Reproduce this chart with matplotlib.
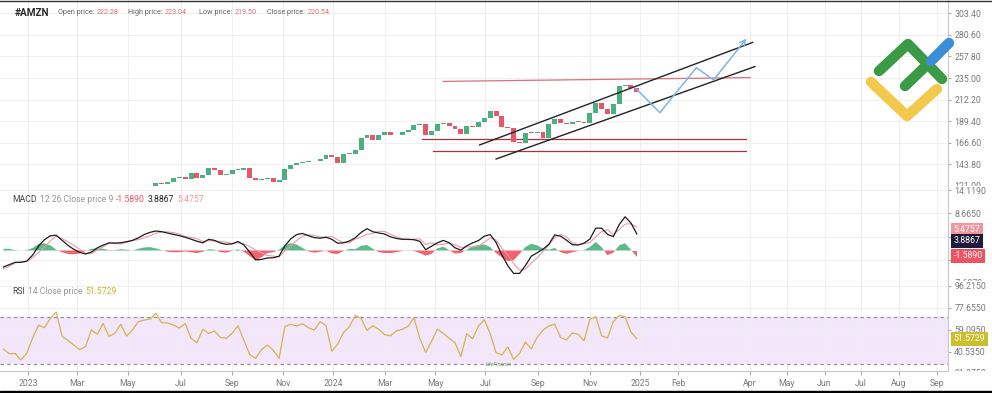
# AMZN daily chart with MACD and RSI panes, weekly readings.
import numpy as np
import pandas as pd
import matplotlib
matplotlib.use('Agg')
import matplotlib.pyplot as plt
from matplotlib.lines import Line2D
from matplotlib.patches import Rectangle
from matplotlib.text import Annotation
from matplotlib.transforms import Bbox, TransformedBbox

W, H = 992, 393

# axis calendar: trading days up to 2024, calendar days afterwards
START = '2022-11-28'
FUTURE = '2025-01-01'
FUTURE_STEP = 1.04

# weekly (Friday) readings
IND_START = '2022-12-02'
PRICE_START = '2023-05-26'
LAST_DAY = '2024-12-27'

price_close = [120.1, 124.3, 123.4, 125.5, 129.3, 130.4, 128.4, 134.7, 130.0, 132.2,
               139.6, 138.4, 133.2, 133.3, 138.1, 138.2, 140.4, 129.1, 127.1, 128.0,
               129.8, 125.2, 127.7, 138.6, 143.6, 145.2, 146.7, 147.0, 147.4, 150.0,
               153.4, 151.9, 145.2, 155.2, 155.3, 159.1, 171.8, 174.5, 169.5, 175.0,
               178.2, 175.4, 174.4, 178.2, 180.4, 185.1, 186.9, 174.6, 179.6, 186.2,
               187.5, 184.7, 180.8, 176.4, 184.3, 183.7, 189.1, 193.3, 200.0, 194.5,
               183.1, 182.5, 167.9, 166.9, 177.1, 177.0, 178.5, 171.4, 186.5, 191.6,
               188.0, 186.5, 188.8, 189.0, 187.8, 197.9, 208.2, 202.6, 197.1, 207.9,
               227.0, 227.5, 224.9, 220.5]

macd_line = [-3.86, -3.32, -2.78, -2.74, -2.49, -1.04, 1.06, 2.53, 3.45, 3.57,
             2.39, 1.21, 0.28, -0.42, -0.81, -0.36, 0.61, 1.26, 1.79, 1.74,
             1.81, 2.07, 2.35, 2.96, 3.73, 4.25, 4.56, 4.41, 4.08, 3.77,
             3.48, 3.09, 2.65, 2.17, 1.79, 2.61, 2.37, 1.75, 1.45, 1.55,
             2.11, 1.29, -0.36, -2.20, -2.09, -1.75, -1.70, -1.33, 1.11, 2.73,
             3.73, 4.00, 3.47, 3.02, 2.87, 3.12, 2.61, 1.71, 1.80, 2.22,
             2.99, 4.25, 5.11, 4.39, 4.10, 3.86, 3.20, 2.82, 2.62, 2.62,
             2.53, 2.14, 0.19, 1.00, 1.81, 2.35, 1.82, 0.63, 0.09, 1.08,
             1.79, 2.33, 3.35, 3.73, 1.89, -1.05, -3.55, -5.36, -5.36, -3.55,
             -1.34, -0.53, 0.29, 1.45, 3.66, 3.35, 2.43, 1.35, 1.29, 1.71,
             2.68, 5.23, 5.22, 3.79, 3.25, 6.06, 7.89, 6.44, 3.8867]

macd_hist = [0.4, 0.4, 0.1, 0.0, 0.1, 0.6, 1.5, 1.7, 1.2, 0.2,
             -0.4, -0.8, -0.9, -0.7, -0.1, 0.4, 0.5, 0.4, 0.1, 0.1,
             0.3, 0.2, 0.0, 0.4, 0.7, 0.8, 0.5, 0.1, -0.3, -0.4,
             -0.4, -0.2, -0.4, -0.6, -0.3, 0.3, 0.2, -0.4, -0.5, -0.1,
             0.3, -0.3, -1.3, -2.3, -1.6, -0.6, -0.4, 0.2, 1.2, 1.7,
             1.4, 0.6, -0.2, -0.5, -0.3, 0.0, -0.7, -0.8, -0.1, 0.4,
             0.3, 1.1, 1.3, 0.4, -0.4, -0.6, -0.6, -0.4, -0.1, 0.1,
             -0.1, -0.6, -1.2, -0.8, 0.5, 0.9, 0.1, -0.7, -0.6, 0.2,
             1.0, 1.3, 1.4, 0.8, -0.6, -1.6, -2.5, -2.3, -0.8, 0.8,
             1.6, 1.2, 0.5, 0.2, 0.6, -0.4, -0.8, -0.4, -0.1, 0.1,
             0.8, 2.0, 0.8, -1.1, -0.5, 1.2, 1.7, 0.2, -1.589]

rsi = [42.8, 38.9, 39.2, 33.6, 39.5, 52.4, 63.0, 60.8, 68.6, 74.0,
       53.5, 50.1, 46.2, 42.3, 44.8, 58.8, 55.2, 64.4, 53.5, 56.0,
       63.6, 53.8, 58.8, 65.8, 67.2, 68.0, 72.8, 65.0, 64.7, 63.0,
       60.5, 64.4, 51.8, 48.2, 59.4, 56.0, 58.0, 52.6, 51.8, 56.0,
       62.4, 50.4, 38.3, 35.0, 42.3, 46.2, 42.0, 35.0, 61.9, 63.6,
       62.2, 64.1, 60.8, 58.8, 65.8, 62.7, 41.0, 47.0, 56.8, 61.6,
       71.1, 68.6, 58.5, 62.4, 59.4, 54.9, 54.0, 58.0, 59.4, 61.9,
       69.2, 51.8, 40.0, 49.3, 59.6, 56.0, 51.8, 48.2, 36.4, 55.7,
       51.5, 62.2, 67.5, 55.7, 40.0, 37.8, 44.8, 34.1, 39.2, 48.7,
       43.1, 52.6, 58.8, 62.2, 63.8, 52.6, 50.4, 56.3, 55.4, 49.6,
       67.8, 70.0, 54.0, 52.1, 65.8, 71.1, 70.0, 57.1, 51.5729]

# drawings on the price pane: (date, price)
channel_upper = [('2024-06-24', 164.4), ('2025-04-03', 272.6)]
channel_lower = [('2024-07-12', 149.6), ('2025-04-05', 247.2)]
level_top = [('2024-05-10', 231.5), ('2025-04-01', 235.5)]
level_mid = [('2024-04-16', 170.4), ('2025-03-29', 170.4)]
level_low = [('2024-04-29', 158.0), ('2025-03-29', 158.0)]
forecast = [('2024-12-26', 224.2), ('2025-01-17', 198.5), ('2025-02-16', 246.0),
            ('2025-03-02', 233.0), ('2025-03-29', 276.7)]

tick_dates = ['2023-01-01', '2023-03-01', '2023-05-01', '2023-07-01', '2023-09-01',
              '2023-11-01', '2024-01-01', '2024-03-01', '2024-05-01', '2024-07-01',
              '2024-09-01', '2024-11-01', '2025-01-01', '2025-02-01', '2025-04-01',
              '2025-05-01', '2025-06-01', '2025-07-01', '2025-08-01', '2025-09-01']
tick_labels = ['2023', 'Mar', 'May', 'Jul', 'Sep', 'Nov', '2024', 'Mar', 'May', 'Jul',
               'Sep', 'Nov', '2025', 'Feb', 'Apr', 'May', 'Jun', 'Jul', 'Aug', 'Sep']

price_ticks = [143.8, 166.6, 189.4, 212.2, 235.0, 257.8, 280.6, 303.4]
macd_ticks = [-2.243, 3.211, 8.665, 14.119]
macd_hidden = [-2.243, 3.211]      # labels covered by the value tags
rsi_ticks = [40.535, 59.095, 77.655, 96.215]

GREEN = '#4caf82'
RED = '#e8566a'
GRID = '#efefef'
AXC = '#c8c8c8'
LAB = '#7a7a7a'

plt.rcParams['font.family'] = ['Roboto', 'DejaVu Sans']


def to_x(d):
    d = pd.Timestamp(d)
    if d < pd.Timestamp(FUTURE):
        return float(np.busday_count(np.datetime64(START), np.datetime64(d.strftime('%Y-%m-%d'))))
    base = np.busday_count(np.datetime64(START), np.datetime64(FUTURE))
    return base + (d - pd.Timestamp(FUTURE)).days * FUTURE_STEP


def fx(x):
    return x / W


def fy(y):
    return 1 - y / H


fig = plt.figure(figsize=(W / 100, H / 100), dpi=100)
ax_p = fig.add_axes([0, fy(186), fx(948), 186 / H])
ax_m = fig.add_axes([0, fy(281), fx(948), 95 / H])
ax_r = fig.add_axes([0, fy(371), fx(948), 90 / H])

xt = [to_x(d) for d in tick_dates]
for ax in (ax_p, ax_m, ax_r):
    ax.set_xlim(1.1, 809.3)
    ax.yaxis.tick_right()
    for s in ('top', 'left'):
        ax.spines[s].set_visible(False)
    for s in ('right', 'bottom'):
        ax.spines[s].set_color(AXC)
        ax.spines[s].set_linewidth(0.8)
    ax.set_xticks(xt)
    ax.grid(True, color=GRID, lw=0.7, zorder=0)
    ax.set_axisbelow(True)
    ax.tick_params(axis='y', length=2.5, pad=2, color='#aaaaaa', labelsize=6.3, labelcolor=LAB)
    ax.tick_params(axis='x', length=0, labelbottom=False)
ax_r.tick_params(axis='x', length=3, color='#aaaaaa', pad=3, labelbottom=True,
                 labelsize=6.3, labelcolor=LAB)
ax_r.set_xticklabels(tick_labels)

# ---- price pane
ax_p.set_ylim(121.1, 317.4)
ax_p.set_yticks(price_ticks)
ax_p.set_yticklabels(['%.2f' % v for v in price_ticks])

pdates = pd.date_range(PRICE_START, LAST_DAY, freq='W-FRI')
xp = np.array([to_x(d) for d in pdates])
closes = np.array(price_close)
opens = np.r_[closes[0], closes[:-1]]
up = closes >= opens
ax_p.bar(xp, np.maximum(np.abs(closes - opens), 0.6), bottom=np.minimum(opens, closes),
         width=4.2, color=np.where(up, GREEN, RED), lw=0, zorder=3)


def seg(ax, pts, **kw):
    ax.plot([to_x(d) for d, _ in pts], [v for _, v in pts], **kw)


seg(ax_p, level_top, color='#d9707c', lw=0.9, zorder=2)
seg(ax_p, level_mid, color='#a8323f', lw=0.9, zorder=2)
seg(ax_p, level_low, color='#a8323f', lw=0.9, zorder=2)
seg(ax_p, channel_upper, color='#222222', lw=1.0, zorder=4)
seg(ax_p, channel_lower, color='#222222', lw=1.0, zorder=4)
seg(ax_p, forecast[:-1], color='#7bb6e3', lw=1.1, zorder=4)
ax_p.annotate('', xy=(to_x(forecast[-1][0]), forecast[-1][1]),
              xytext=(to_x(forecast[-2][0]), forecast[-2][1]),
              arrowprops=dict(arrowstyle='->', color='#7bb6e3', lw=1.1,
                              shrinkA=0, shrinkB=0), zorder=4)

# ---- MACD pane
ind_dates = pd.date_range(IND_START, LAST_DAY, freq='W-FRI')
xi = np.array([to_x(d) for d in ind_dates])
macd_arr = np.array(macd_line)
hist_arr = np.array(macd_hist)
signal_arr = macd_arr - hist_arr

ax_m.set_ylim(-7.14, 15.1)
ax_m.set_yticks(macd_ticks)
ax_m.set_yticklabels(['' if v in macd_hidden else '%.4f' % v for v in macd_ticks])
ax_m.fill_between(xi, 0, hist_arr, where=hist_arr >= 0, interpolate=True,
                  color='#5db88a', lw=0, zorder=2)
ax_m.fill_between(xi, 0, hist_arr, where=hist_arr <= 0, interpolate=True,
                  color='#ef6470', lw=0, zorder=2)
ax_m.plot(xi, signal_arr, color='#e99aa6', lw=0.8, zorder=3)
ax_m.plot(xi, macd_arr, color='#1c1c1c', lw=0.9, zorder=4)

# ---- RSI pane
ax_r.set_ylim(24.4, 100.0)
ax_r.set_yticks(rsi_ticks)
ax_r.set_yticklabels(['%.4f' % v for v in rsi_ticks])
ax_r.axhspan(30, 70, color='#f3e6fb', lw=0, zorder=0.5)
for lvl in (30, 70):
    ax_r.axhline(lvl, color='#8a8a8a', lw=0.8, ls=(0, (3, 3)), zorder=1)
ax_r.plot(xi, rsi, color='#d4b451', lw=0.9, zorder=3)


# labels cut by the pane edge
def cut_label(ax, v, text):
    t = ax.annotate(text, xy=(1, v), xycoords=ax.get_yaxis_transform(), xytext=(4.5, 0),
                    textcoords='offset points', va='center', ha='left', fontsize=6.3,
                    color=LAB, annotation_clip=False)
    t.set_clip_box(TransformedBbox(Bbox([[1.0, 0.0], [1.06, 1.0]]), ax.transAxes))
    t.set_clip_on(True)


cut_label(ax_p, 121.0, '121.00')
cut_label(ax_m, -7.697, '-7.6970')
cut_label(ax_r, 21.975, '21.9750')


# value tags on the right axis
def tag(ax, v, text, color, dy=0):
    ax.annotate(text, xy=(1, v), xycoords=ax.get_yaxis_transform(), xytext=(4, dy),
                textcoords='offset points', va='center', ha='left', fontsize=6.3,
                color='white', annotation_clip=False,
                bbox=dict(boxstyle='square,pad=0.3', fc=color, ec='none'))


tag(ax_m, 5.4757, '5.4757', '#f2959c', dy=-2)
tag(ax_m, 3.8867, '3.8867', '#1f1b3d', dy=-5)
tag(ax_m, -1.589, '-1.5890', '#ef5361', dy=1)
tag(ax_r, 51.5729, '51.5729', '#cbbf2e')


# legend lines: pieces of text written one after another
def chain(x, y, parts, size, gap=2.5):
    prev = fig.text(fx(x), fy(y), parts[0][0], fontsize=size, color=parts[0][1], va='center')
    for text, color in parts[1:]:
        prev = fig.add_artist(Annotation(
            text, xy=(1, 0.5), xycoords=prev, xytext=(gap, 0), textcoords='offset points',
            va='center', ha='left', fontsize=size, color=color))
    return prev


# ---- header texts
fig.text(fx(15), fy(13), '#AMZN', fontsize=7.2, fontweight='bold', color='#2b2b2b', va='center')
hdr = [(58, 'Open price:', '222.28'), (128, 'High price:', '223.04'),
       (199, 'Low price:', '219.50'), (267, 'Close price:', '220.54')]
for x1, name, val in hdr:
    chain(x1, 13, [(name, '#666666'), (val, '#e06c78')], 5.2, gap=1.8)

chain(12, 200, [('MACD', '#444444'), ('12 26 Close price 9', '#999999'),
                ('-1.5890', '#ef5361'), ('3.8867', '#222222'), ('5.4757', '#f0939a')], 6.2, gap=2.2)
chain(12, 292, [('RSI', '#444444'), ('14 Close price', '#999999'),
                ('51.5729', '#c9b91e')], 6.2, gap=2.2)

# ---- logo
logo = [([(879, 71), (908, 44), (942, 79)], '#3a9a46'),
        ([(905, 86), (930, 62)], '#3a9a46'),
        ([(931, 61), (949, 43)], '#3b8fd9'),
        ([(871, 82), (907, 116), (937, 89)], '#f2c94c')]
for pts, col in logo:
    fig.add_artist(Line2D([fx(p[0]) for p in pts], [fy(p[1]) for p in pts], color=col, lw=7.5,
                          solid_capstyle='round', solid_joinstyle='round'))

fig.text(fx(486), fy(365), 'LiteFinance', fontsize=3.8, color='#5aa55a', style='italic', va='center')

# screenshot borders
fig.add_artist(Line2D([0, 1], [fy(0.5), fy(0.5)], color='#333333', lw=1))
fig.add_artist(Rectangle((0, 0), 1, 2 / H, transform=fig.transFigure, color='black'))

fig.savefig('out.png', dpi=100)
